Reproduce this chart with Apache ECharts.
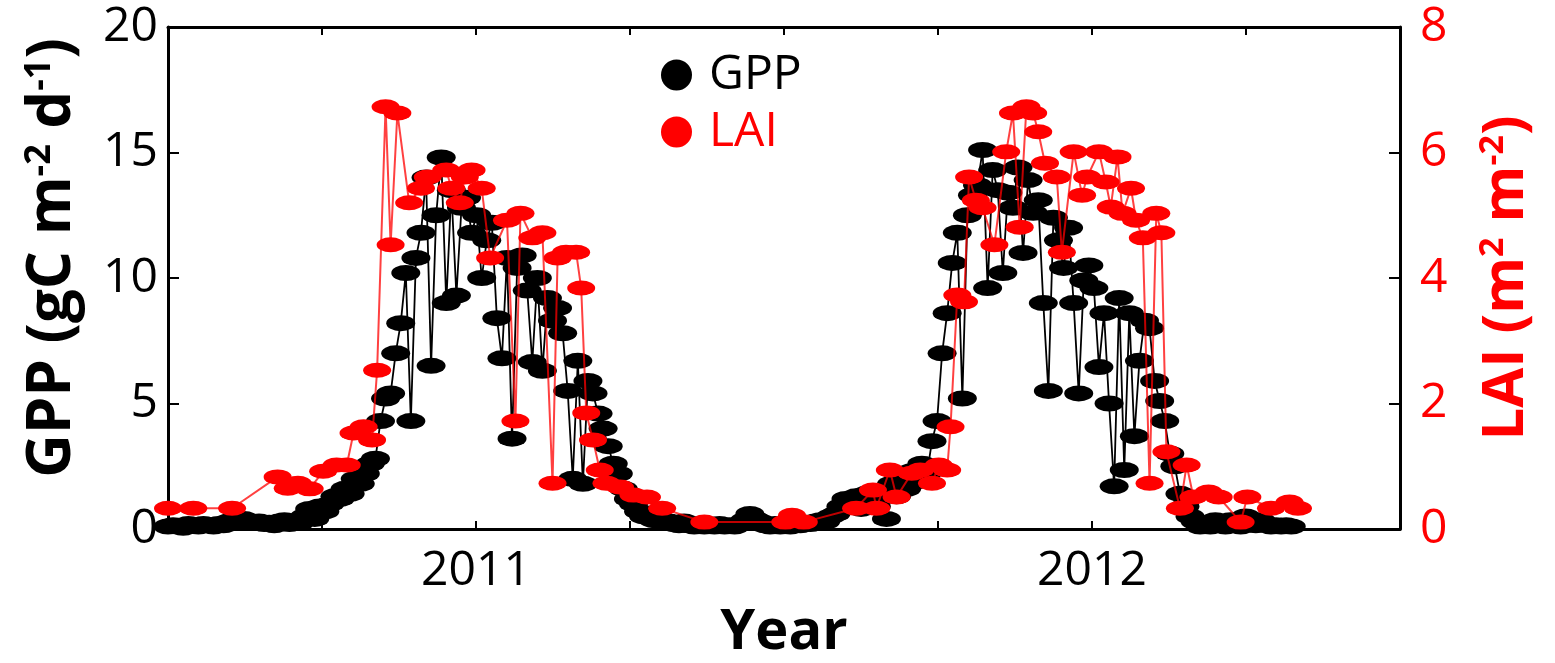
<!DOCTYPE html>
<html><head><meta charset="utf-8">
<script src="https://cdn.jsdelivr.net/npm/echarts@6/dist/echarts.min.js"></script>
<style>html,body{margin:0;padding:0;background:#fff}#c{width:1555px;height:663px}</style>
</head><body><div id="c"></div>
<script>
// Record starts 1 July 2010 (decimal year 2010.5); GPP sampled every 3 days
const startYear = 2010.5;
const gppStepDays = 3;
const gppValues = [
  0.1,0.15,0.1,0.05,0.2,0.15,0.1,0.2,0.15,0.1,0.2,0.15,0.3,0.35,0.3,0.4,0.3,0.25,0.3,0.2,0.25,0.15,0.3,0.35,0.2,0.3,0.25,
  0.5,0.8,0.4,0.9,0.7,1.0,1.3,1.2,1.6,1.4,2.0,1.8,2.2,2.6,2.8,
  4.3,5.2,5.4,7.0,8.2,10.2,4.3,10.8,11.8,14.0,6.5,12.5,14.8,9.0,13.5,9.3,12.8,13.2,11.8,12.5,
  10.0,11.5,12.2,8.4,6.8,10.8,3.6,10.4,10.9,9.5,6.65,10.0,6.3,9.2,8.3,8.8,7.8,5.5,2.0,6.7,1.8,5.9,5.4,4.6,4.0,3.3,2.6,2.2,1.6,1.2,1.0,0.7,0.5,0.6,0.35,0.45,0.25,0.3,0.2,
  0.15,0.3,0.15,0.1,0.2,0.1,0.15,0.1,0.2,0.1,0.15,0.1,0.2,0.35,0.6,0.4,0.3,0.15,0.1,0.2,0.1,0.15,0.1,0.2,0.15,0.25,0.2,0.3,0.35,0.3,0.5,0.6,0.9,1.2,1.0,1.3,0.8,1.4,1.1,0.9,1.5,0.4,1.8,1.3,2.0,1.6,2.3,1.9,2.6,2.2,
  3.5,4.3,7.0,8.6,10.6,11.8,5.2,12.5,13.3,13.7,15.1,9.6,14.3,13.5,10.2,13.4,12.8,14.4,11.0,13.9,12.6,13.1,9.0,5.5,12.4,11.5,10.4,12.0,9.0,5.4,9.9,10.5,9.6,6.45,8.6,5.0,1.7,9.2,2.35,8.6,3.7,6.7,8.3,8.0,5.9,5.1,4.3,3.0,2.5,1.4,0.9,0.5,0.3,0.1,0.2,0.1,0.35,0.2,0.1,0.35,0.2,0.1,0.5,0.3,0.15,0.35,0.2,0.1,0.15,0.1,0.15,0.1
];
// LAI observations: days since 1 July 2010 and values (m2 m-2)
const laiDays = [0,15,38,65,71,77,84,92,100,106,110,116,121,124,129,132,136,143,150,154,165,168,173,176,180,186,191,201,206,209,216,222,228,231,236,242,245,248,252,256,260,268,276,284,293,318,366,370,377,408,418,420,428,432,441,446,453,457,462,464,468,472,475,479,483,490,497,501,505,509,513,516,520,527,530,537,542,545,552,556,559,563,566,571,574,578,582,586,589,592,600,604,608,617,623,636,640,654,665,670];
const laiValues = [0.33,0.33,0.33,0.83,0.65,0.73,0.64,0.92,1.02,1.02,1.53,1.63,1.42,2.53,6.73,4.53,6.63,5.2,5.43,5.61,5.72,5.43,5.2,5.61,5.72,5.43,4.32,4.92,1.72,5.03,4.64,4.72,0.73,4.32,4.41,4.41,3.84,1.85,1.42,0.94,0.73,0.67,0.54,0.51,0.33,0.11,0.11,0.22,0.11,0.33,0.62,0.33,0.94,0.51,0.89,0.94,0.73,1.02,0.94,1.63,3.73,3.62,5.61,5.24,5.12,4.53,6.01,6.63,4.81,6.73,6.63,6.33,5.83,5.61,4.41,6.01,5.32,5.61,6.01,5.53,5.13,5.93,5.03,5.43,4.92,4.64,0.73,5.03,4.72,1.23,0.33,1.02,0.51,0.59,0.51,0.11,0.51,0.33,0.43,0.33];
const yearTicks = [2011, 2012];

const toYear = d => startYear + d / 365.25;
const gppData = gppValues.map((v, i) => [toYear(i * gppStepDays), v]);
const laiData = laiDays.map((d, i) => [toYear(d), laiValues[i]]);

const FONT = 'Open Sans';
const chart = echarts.init(document.getElementById('c'), null, {renderer: 'canvas'});
function xAxisDef(pos, extra) {
  return Object.assign({
    type: 'value', min: 2010.5, max: 2012.5, interval: 0.25, position: pos,
    splitLine: {show: false},
    axisLine: {show: true, onZero: false, lineStyle: {color: '#000', width: 3}},
    axisTick: {show: true, inside: true, length: 8, lineStyle: {color: '#000', width: 2}}
  }, extra);
}
chart.setOption({
  animation: false,
  backgroundColor: '#fff',
  grid: {left: 168, right: 155, top: 27, bottom: 134, containLabel: false, outerBoundsMode: 'none'},
  legend: {
    orient: 'vertical', left: 656, top: 46, itemWidth: 31, itemHeight: 31, itemGap: 9, icon: 'circle',
    textStyle: {fontFamily: FONT, fontSize: 48, lineHeight: 48, padding: [0, 0, 0, 12]},
    data: [
      {name: 'GPP', itemStyle: {color: '#000'}, textStyle: {color: '#000'}},
      {name: 'LAI', itemStyle: {color: '#ff0000'}, textStyle: {color: '#ff0000'}}
    ]
  },
  xAxis: [
    xAxisDef('bottom', {
      name: 'Year', nameLocation: 'middle', nameGap: 76,
      nameTextStyle: {fontFamily: FONT, fontSize: 56, fontWeight: 'bold', color: '#000'},
      axisLabel: {
        fontFamily: FONT, fontSize: 48, color: '#000', margin: 18,
        formatter: v => yearTicks.includes(Math.round(v * 1000) / 1000) ? String(Math.round(v)) : ''
      }
    }),
    xAxisDef('top', {axisLabel: {show: false}})
  ],
  yAxis: [
    {
      type: 'value', min: 0, max: 20, interval: 5, position: 'left',
      splitLine: {show: false},
      axisLine: {show: true, onZero: false, lineStyle: {color: '#000', width: 3}},
      axisTick: {show: true, inside: true, length: 11, lineStyle: {color: '#000', width: 2}},
      axisLabel: {fontFamily: FONT, fontSize: 48, color: '#000', margin: 10},
      name: 'GPP (gC m{sup|-2} d{sup|-1})', nameLocation: 'middle', nameGap: 84, nameRotate: 90,
      nameTextStyle: {
        fontFamily: FONT, fontSize: 60, fontWeight: 'bold', color: '#000', lineHeight: 62,
        padding: [0, 0, 0, 40],
        rich: {sup: {fontFamily: FONT, fontSize: 36, fontWeight: 'bold', color: '#000', lineHeight: 36, verticalAlign: 'top'}}
      }
    },
    {
      type: 'value', min: 0, max: 8, interval: 2, position: 'right',
      splitLine: {show: false},
      axisLine: {show: true, onZero: false, lineStyle: {color: '#000', width: 3}},
      axisTick: {show: true, inside: true, length: 11, lineStyle: {color: '#000', width: 2}},
      axisLabel: {fontFamily: FONT, fontSize: 48, color: '#ff0000', margin: 20},
      name: 'LAI (m{sup|2} m{sup|-2})', nameLocation: 'middle', nameGap: 76, nameRotate: 90,
      nameTextStyle: {
        fontFamily: FONT, fontSize: 58, fontWeight: 'bold', color: '#ff0000', lineHeight: 60,
        rich: {sup: {fontFamily: FONT, fontSize: 34, fontWeight: 'bold', color: '#ff0000', lineHeight: 34, verticalAlign: 'top'}}
      }
    }
  ],
  series: [
    {
      name: 'GPP', type: 'line', xAxisIndex: 0, yAxisIndex: 0, data: gppData,
      symbol: 'circle', symbolSize: [29, 16], showAllSymbol: true,
      itemStyle: {color: '#000'}, lineStyle: {color: '#000', width: 1.8},
      z: 2
    },
    {
      name: 'LAI', type: 'line', xAxisIndex: 0, yAxisIndex: 1, data: laiData,
      symbol: 'circle', symbolSize: [28, 15], showAllSymbol: true,
      itemStyle: {color: '#ff0000'}, lineStyle: {color: 'rgba(255,0,0,0.75)', width: 2},
      z: 3
    }
  ]
});
</script></body></html>
